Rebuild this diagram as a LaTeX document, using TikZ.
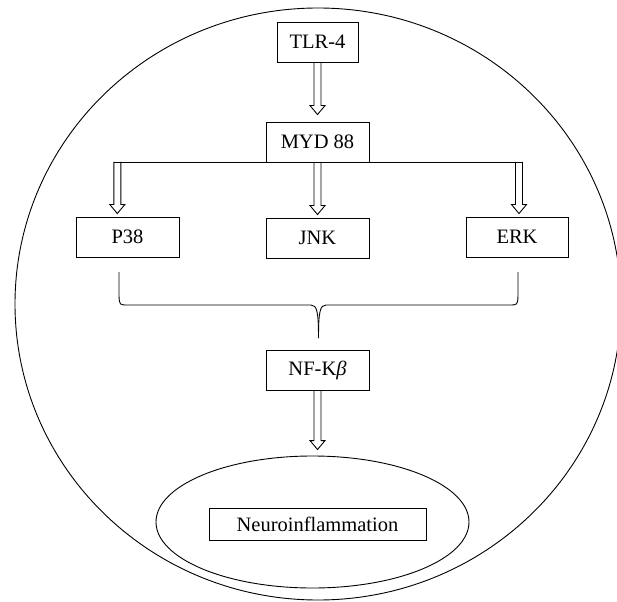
\documentclass[tikz,border=0pt]{standalone}
\usepackage{fontspec}
\setmainfont{Liberation Serif}
\usetikzlibrary{calc,shapes.geometric}
\begin{document}
\begin{tikzpicture}[x=1pt,y=-1pt,line width=0.9pt,
  box/.style={draw,minimum height=40pt,inner sep=0pt,font=\fontsize{20.5}{22}\selectfont},
  hollow/.style={to path={let \p1=(\tikztostart), \p2=(\tikztotarget) in
    (\x1-3.5,\y1) -- (\x1-3.5,\y2+#1+9) -- (\x1-7.5,\y2+#1+9) -- (\x1,\y2+#1)
    -- (\x1+7.5,\y2+#1+9) -- (\x1+3.5,\y2+#1+9) -- (\x1+3.5,\y1)}},
  hollow/.default=3]
\useasboundingbox (0,0) rectangle (617,601);
\draw (318,304) ellipse [x radius=303, y radius=296];

\node[box,minimum width=81pt]  (tlr) at (317.5,42)  {TLR-4};
\node[box,minimum width=103pt] (myd) at (317.5,142) {MYD 88};
\node[box,minimum width=103pt] (p38) at (127.5,237) {P38};
\node[box,minimum width=103pt] (jnk) at (317.5,238) {JNK};
\node[box,minimum width=102pt] (erk) at (517,237)   {ERK};
\node[box,minimum width=103pt] (nf)  at (317.5,370) {NF-K\textit{β}};
\node[draw,ellipse,minimum width=313pt,minimum height=132pt,inner sep=0pt] (cell) at (312.5,522) {};
\node[box,minimum width=217pt,minimum height=32pt] (infl) at (317.5,524) {Neuroinflammation};

\draw[hollow=7] (tlr.south) to (myd.north);

\coordinate (fl) at (113.8,162);
\coordinate (fr) at (522.5,162);
\draw (fl) -- (fr);
\coordinate (a1) at (117.3,162);
\coordinate (a2) at (317.5,162);
\coordinate (a3) at (519,162);
\draw[hollow] (a1) to (a1 |- p38.north);
\draw[hollow] (a2) to (a2 |- jnk.north);
\draw[hollow] (a3) to (a3 |- erk.north);

\coordinate (bl) at (119,272);
\coordinate (br) at (518,272);
\coordinate (bm) at (318.5,338);
\draw (bl) -- (119,296) .. controls (119.5,305) .. (128,305) -- (311,305)
  .. controls (317,305) and (318.5,312) .. (bm);
\draw (br) -- (518,296) .. controls (517.5,305) .. (509,305) -- (326,305)
  .. controls (320,305) and (318.5,312) .. (bm);

\draw[hollow=6] (nf.south) to (cell.north);
\end{tikzpicture}
\end{document}
